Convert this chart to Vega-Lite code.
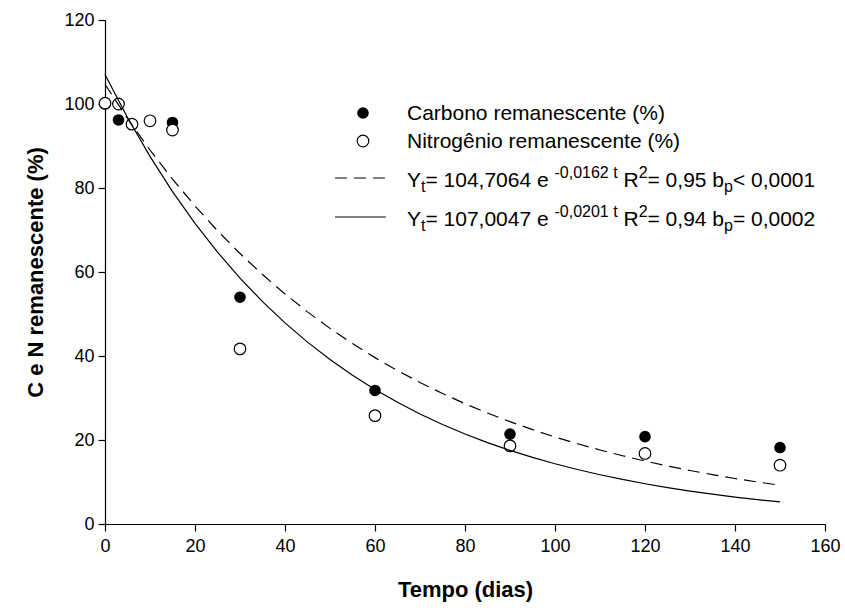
{
  "$schema": "https://vega.github.io/schema/vega-lite/v6.json",
  "width": 720,
  "height": 504,
  "autosize": {"type": "none"},
  "padding": {"left": 105, "top": 20, "right": 20, "bottom": 86},
  "background": "white",
  "datasets": {
    "pontos": [
      {"x": 0, "y": 100, "serie": "C"},
      {"x": 3, "y": 96.2, "serie": "C"},
      {"x": 15, "y": 95.6, "serie": "C"},
      {"x": 30, "y": 54, "serie": "C"},
      {"x": 60, "y": 31.8, "serie": "C"},
      {"x": 90, "y": 21.4, "serie": "C"},
      {"x": 120, "y": 20.8, "serie": "C"},
      {"x": 150, "y": 18.2, "serie": "C"},
      {"x": 0, "y": 100.2, "serie": "N"},
      {"x": 3, "y": 100, "serie": "N"},
      {"x": 6, "y": 95.2, "serie": "N"},
      {"x": 10, "y": 96, "serie": "N"},
      {"x": 15, "y": 93.8, "serie": "N"},
      {"x": 30, "y": 41.7, "serie": "N"},
      {"x": 60, "y": 25.8, "serie": "N"},
      {"x": 90, "y": 18.6, "serie": "N"},
      {"x": 120, "y": 16.8, "serie": "N"},
      {"x": 150, "y": 14.0, "serie": "N"}
    ],
    "curvas": [
      {"x": 0, "y": 104.706, "curva": "C"},
      {"x": 5, "y": 96.559, "curva": "C"},
      {"x": 10, "y": 89.045, "curva": "C"},
      {"x": 15, "y": 82.118, "curva": "C"},
      {"x": 20, "y": 75.728, "curva": "C"},
      {"x": 25, "y": 69.837, "curva": "C"},
      {"x": 30, "y": 64.403, "curva": "C"},
      {"x": 35, "y": 59.392, "curva": "C"},
      {"x": 40, "y": 54.771, "curva": "C"},
      {"x": 45, "y": 50.509, "curva": "C"},
      {"x": 50, "y": 46.579, "curva": "C"},
      {"x": 55, "y": 42.955, "curva": "C"},
      {"x": 60, "y": 39.613, "curva": "C"},
      {"x": 65, "y": 36.531, "curva": "C"},
      {"x": 70, "y": 33.688, "curva": "C"},
      {"x": 75, "y": 31.067, "curva": "C"},
      {"x": 80, "y": 28.65, "curva": "C"},
      {"x": 85, "y": 26.421, "curva": "C"},
      {"x": 90, "y": 24.365, "curva": "C"},
      {"x": 95, "y": 22.469, "curva": "C"},
      {"x": 100, "y": 20.721, "curva": "C"},
      {"x": 105, "y": 19.109, "curva": "C"},
      {"x": 110, "y": 17.622, "curva": "C"},
      {"x": 115, "y": 16.251, "curva": "C"},
      {"x": 120, "y": 14.987, "curva": "C"},
      {"x": 125, "y": 13.821, "curva": "C"},
      {"x": 130, "y": 12.745, "curva": "C"},
      {"x": 135, "y": 11.754, "curva": "C"},
      {"x": 140, "y": 10.839, "curva": "C"},
      {"x": 145, "y": 9.996, "curva": "C"},
      {"x": 150, "y": 9.218, "curva": "C"},
      {"x": 0, "y": 107.005, "curva": "N"},
      {"x": 5, "y": 96.774, "curva": "N"},
      {"x": 10, "y": 87.52, "curva": "N"},
      {"x": 15, "y": 79.152, "curva": "N"},
      {"x": 20, "y": 71.584, "curva": "N"},
      {"x": 25, "y": 64.739, "curva": "N"},
      {"x": 30, "y": 58.55, "curva": "N"},
      {"x": 35, "y": 52.951, "curva": "N"},
      {"x": 40, "y": 47.888, "curva": "N"},
      {"x": 45, "y": 43.309, "curva": "N"},
      {"x": 50, "y": 39.168, "curva": "N"},
      {"x": 55, "y": 35.423, "curva": "N"},
      {"x": 60, "y": 32.036, "curva": "N"},
      {"x": 65, "y": 28.973, "curva": "N"},
      {"x": 70, "y": 26.203, "curva": "N"},
      {"x": 75, "y": 23.698, "curva": "N"},
      {"x": 80, "y": 21.432, "curva": "N"},
      {"x": 85, "y": 19.382, "curva": "N"},
      {"x": 90, "y": 17.529, "curva": "N"},
      {"x": 95, "y": 15.853, "curva": "N"},
      {"x": 100, "y": 14.337, "curva": "N"},
      {"x": 105, "y": 12.967, "curva": "N"},
      {"x": 110, "y": 11.727, "curva": "N"},
      {"x": 115, "y": 10.606, "curva": "N"},
      {"x": 120, "y": 9.591, "curva": "N"},
      {"x": 125, "y": 8.674, "curva": "N"},
      {"x": 130, "y": 7.845, "curva": "N"},
      {"x": 135, "y": 7.095, "curva": "N"},
      {"x": 140, "y": 6.417, "curva": "N"},
      {"x": 145, "y": 5.803, "curva": "N"},
      {"x": 150, "y": 5.248, "curva": "N"}
    ],
    "legenda_simbolos": [
      {"x": 57.33, "y": 97.86, "serie": "C"},
      {"x": 57.33, "y": 91.19, "serie": "N"}
    ],
    "legenda_linhas": [
      {"x": 51.1, "x2": 62.4, "y": 82.38, "curva": "C"},
      {"x": 51.1, "x2": 62.4, "y": 73.1, "curva": "N"}
    ],
    "legenda_textos": [
      {"x": 67.11, "y": 96.19, "text": "Carbono remanescente (%)", "tipo": "main"},
      {"x": 67.11, "y": 89.52, "text": "Nitrogênio remanescente (%)", "tipo": "main"},
      {"x": 67.11, "y": 80.24, "text": "Y", "tipo": "main"},
      {"x": 70.22, "y": 80.24, "text": "t", "tipo": "sub"},
      {"x": 71.21, "y": 80.24, "text": "= 104,7064 e", "tipo": "main"},
      {"x": 99.88, "y": 80.24, "text": "-0,0162 t", "tipo": "sup"},
      {"x": 115.22, "y": 80.24, "text": "R", "tipo": "main"},
      {"x": 118.59, "y": 80.24, "text": "2", "tipo": "sup"},
      {"x": 120.56, "y": 80.24, "text": "= 0,95 b", "tipo": "main"},
      {"x": 137.56, "y": 80.24, "text": "p", "tipo": "sub"},
      {"x": 139.53, "y": 80.24, "text": "< 0,0001", "tipo": "main"},
      {"x": 67.11, "y": 70.95, "text": "Y", "tipo": "main"},
      {"x": 70.22, "y": 70.95, "text": "t", "tipo": "sub"},
      {"x": 71.21, "y": 70.95, "text": "= 107,0047 e", "tipo": "main"},
      {"x": 99.88, "y": 70.95, "text": "-0,0201 t", "tipo": "sup"},
      {"x": 115.22, "y": 70.95, "text": "R", "tipo": "main"},
      {"x": 118.59, "y": 70.95, "text": "2", "tipo": "sup"},
      {"x": 120.56, "y": 70.95, "text": "= 0,94 b", "tipo": "main"},
      {"x": 137.56, "y": 70.95, "text": "p", "tipo": "sub"},
      {"x": 139.53, "y": 70.95, "text": "= 0,0002", "tipo": "main"}
    ]
  },
  "encoding": {
    "x": {
      "field": "x",
      "type": "quantitative",
      "scale": {"domain": [0, 160], "nice": false, "zero": false},
      "axis": {"values": [0, 20, 40, 60, 80, 100, 120, 140, 160], "title": "Tempo (dias)", "titlePadding": 24, "labelFlush": false, "labelPadding": 6},
      "title": "Tempo (dias)"
    },
    "y": {
      "field": "y",
      "type": "quantitative",
      "scale": {"domain": [0, 120], "nice": false, "zero": false},
      "axis": {"values": [0, 20, 40, 60, 80, 100, 120], "title": "C e N remanescente (%)", "titlePadding": 16, "labelFlush": false},
      "title": "C e N remanescente (%)"
    }
  },
  "layer": [
    {
      "data": {"name": "pontos"},
      "transform": [{"filter": "datum.serie === 'C'"}],
      "mark": {"type": "point", "shape": "circle", "filled": true, "color": "black", "size": 135, "opacity": 1}
    },
    {
      "data": {"name": "pontos"},
      "transform": [{"filter": "datum.serie === 'N'"}],
      "mark": {"type": "point", "shape": "circle", "filled": false, "fill": "white", "fillOpacity": 1, "stroke": "black", "strokeWidth": 1.2, "size": 135, "opacity": 1}
    },
    {
      "data": {"name": "curvas"},
      "transform": [{"filter": "datum.curva === 'C'"}],
      "mark": {"type": "line", "color": "black", "strokeWidth": 1.2, "strokeDash": [12, 7]}
    },
    {
      "data": {"name": "curvas"},
      "transform": [{"filter": "datum.curva === 'N'"}],
      "mark": {"type": "line", "color": "black", "strokeWidth": 1.2}
    },
    {
      "data": {"name": "legenda_simbolos"},
      "transform": [{"filter": "datum.serie === 'C'"}],
      "mark": {"type": "point", "shape": "circle", "filled": true, "color": "black", "size": 135, "opacity": 1}
    },
    {
      "data": {"name": "legenda_simbolos"},
      "transform": [{"filter": "datum.serie === 'N'"}],
      "mark": {"type": "point", "shape": "circle", "filled": false, "fill": "white", "fillOpacity": 1, "stroke": "black", "strokeWidth": 1.2, "size": 135, "opacity": 1}
    },
    {
      "data": {"name": "legenda_linhas"},
      "transform": [{"filter": "datum.curva === 'C'"}],
      "mark": {"type": "rule", "color": "black", "strokeWidth": 1.2, "strokeDash": [12, 7]},
      "encoding": {"x2": {"field": "x2"}}
    },
    {
      "data": {"name": "legenda_linhas"},
      "transform": [{"filter": "datum.curva === 'N'"}],
      "mark": {"type": "rule", "color": "black", "strokeWidth": 1.2},
      "encoding": {"x2": {"field": "x2"}}
    },
    {
      "data": {"name": "legenda_textos"},
      "transform": [{"filter": "datum.tipo === 'main'"}],
      "mark": {"type": "text", "align": "left", "baseline": "alphabetic", "font": "Liberation Sans", "fontSize": 21, "color": "black"},
      "encoding": {"text": {"field": "text"}}
    },
    {
      "data": {"name": "legenda_textos"},
      "transform": [{"filter": "datum.tipo === 'sup'"}],
      "mark": {"type": "text", "align": "left", "baseline": "alphabetic", "font": "Liberation Sans", "fontSize": 16, "dy": -9, "color": "black"},
      "encoding": {"text": {"field": "text"}}
    },
    {
      "data": {"name": "legenda_textos"},
      "transform": [{"filter": "datum.tipo === 'sub'"}],
      "mark": {"type": "text", "align": "left", "baseline": "alphabetic", "font": "Liberation Sans", "fontSize": 16, "dy": 5, "color": "black"},
      "encoding": {"text": {"field": "text"}}
    }
  ],
  "config": {
    "view": {"stroke": null},
    "axis": {
      "grid": false,
      "domainColor": "black",
      "domainWidth": 1.2,
      "tickColor": "black",
      "tickWidth": 1.2,
      "tickSize": 7,
      "labelPadding": 4,
      "labelColor": "black",
      "labelFont": "Liberation Sans",
      "labelFontSize": 18,
      "titleColor": "black",
      "titleFont": "Liberation Sans",
      "titleFontSize": 22,
      "titleFontWeight": "bold"
    }
  }
}
